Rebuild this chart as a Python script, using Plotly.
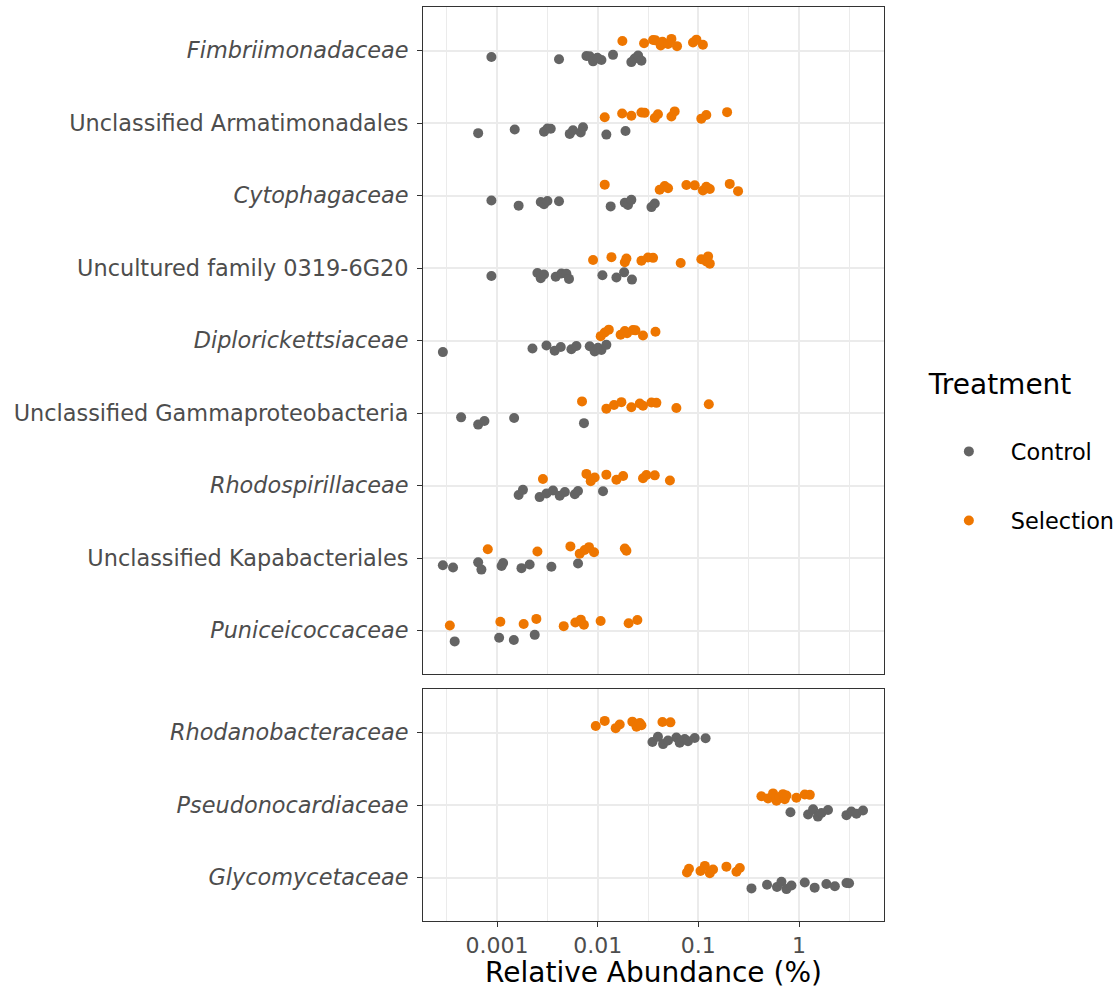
import plotly.graph_objects as go
from plotly.subplots import make_subplots

# ---------------- data ----------------
top_families = [
    "Puniceicoccaceae", "Unclassified Kapabacteriales", "Rhodospirillaceae",
    "Unclassified Gammaproteobacteria", "Diplorickettsiaceae",
    "Uncultured family 0319-6G20", "Cytophagaceae",
    "Unclassified Armatimonadales", "Fimbriimonadaceae",
]
bottom_families = ["Glycomycetaceae", "Pseudonocardiaceae", "Rhodanobacteraceae"]
italic_families = {
    "Fimbriimonadaceae", "Cytophagaceae", "Diplorickettsiaceae", "Rhodospirillaceae",
    "Puniceicoccaceae", "Rhodanobacteraceae", "Pseudonocardiaceae", "Glycomycetaceae",
}
treatments = ["Control", "Selection"]

fimbriimonadaceae_control = [0.00088, 0.00413, 0.00773, 0.00834, 0.0090, 0.00993, 0.0109, 0.0142, 0.0216, 0.0233, 0.0252, 0.0272]
fimbriimonadaceae_selection = [0.0176, 0.0289, 0.0355, 0.0375, 0.0423, 0.044, 0.050, 0.054, 0.0614, 0.0885, 0.0957, 0.111]
armatimonadales_control = [0.00065, 0.0015, 0.00293, 0.00317, 0.00342, 0.00528, 0.00569, 0.00679, 0.00715, 0.0122, 0.0189]
armatimonadales_selection = [0.01175, 0.0175, 0.0216, 0.0272, 0.0293, 0.0369, 0.0397, 0.054, 0.0582, 0.107, 0.120, 0.193]
cytophagaceae_control = [0.00088, 0.00164, 0.00272, 0.00293, 0.00317, 0.00413, 0.01346, 0.0186, 0.0200, 0.0216, 0.0342, 0.0369]
cytophagaceae_selection = [0.01175, 0.0413, 0.0463, 0.050, 0.0761, 0.092, 0.111, 0.120, 0.130, 0.205, 0.248]
family0319_control = [0.00088, 0.00252, 0.00272, 0.00293, 0.00383, 0.00436, 0.00489, 0.00519, 0.01115, 0.01535, 0.0183, 0.0219]
family0319_selection = [0.0090, 0.0137, 0.0186, 0.0193, 0.0272, 0.0316, 0.0355, 0.0668, 0.107, 0.120, 0.125, 0.130]
diplorickettsiaceae_control = [0.00029, 0.00225, 0.0031, 0.00374, 0.0043, 0.00548, 0.00615, 0.00834, 0.00934, 0.01007, 0.0109, 0.0122]
diplorickettsiaceae_selection = [0.01072, 0.01175, 0.0129, 0.0169, 0.0186, 0.0196, 0.0224, 0.0237, 0.0282, 0.0375]
gammaproteobacteria_control = [0.00044, 0.00065, 0.00075, 0.00148, 0.00731]
gammaproteobacteria_selection = [0.00699, 0.0122, 0.01453, 0.0172, 0.0216, 0.0262, 0.0282, 0.0342, 0.0383, 0.0605, 0.127]
rhodospirillaceae_control = [0.00164, 0.00181, 0.00265, 0.0031, 0.0036, 0.0042, 0.00472, 0.00593, 0.00638, 0.0113]
rhodospirillaceae_selection = [0.00286, 0.00773, 0.00853, 0.00934, 0.0122, 0.01535, 0.0179, 0.0282, 0.0305, 0.0369, 0.0522]
kapabacteriales_control = [0.00029, 0.000366, 0.00065, 0.0007, 0.00111, 0.00115, 0.00175, 0.00211, 0.00347, 0.00638]
kapabacteriales_selection = [0.00081, 0.00252, 0.00536, 0.00663, 0.00743, 0.0082, 0.0092, 0.0186, 0.0193]
puniceicoccaceae_control = [0.00038, 0.00105, 0.00147, 0.00237]
puniceicoccaceae_selection = [0.00034, 0.00108, 0.00184, 0.00246, 0.0046, 0.0060, 0.0068, 0.0073, 0.0107, 0.0203, 0.0248]
rhodanobacteraceae_control = [0.035, 0.0397, 0.0446, 0.050, 0.0605, 0.0653, 0.0732, 0.0789, 0.092, 0.118]
rhodanobacteraceae_selection = [0.00957, 0.01175, 0.0151, 0.01656, 0.0221, 0.0243, 0.0262, 0.0272, 0.044, 0.0528]
pseudonocardiaceae_control = [0.822, 1.23, 1.38, 1.54, 1.67, 1.94, 2.96, 3.31, 3.72, 4.32]
pseudonocardiaceae_selection = [0.423, 0.492, 0.552, 0.597, 0.643, 0.693, 0.721, 0.750, 0.942, 1.14, 1.28]
glycomycetaceae_control = [0.337, 0.481, 0.604, 0.669, 0.750, 0.841, 1.14, 1.43, 1.87, 2.27, 2.96, 3.14]
glycomycetaceae_selection = [0.0771, 0.0807, 0.105, 0.116, 0.130, 0.140, 0.190, 0.239, 0.258]

x_tick_values = [0.001, 0.01, 0.1, 1]
x_tick_labels = ["0.001", "0.01", "0.1", "1"]

family_values = {
    "Fimbriimonadaceae": (fimbriimonadaceae_control, fimbriimonadaceae_selection),
    "Unclassified Armatimonadales": (armatimonadales_control, armatimonadales_selection),
    "Cytophagaceae": (cytophagaceae_control, cytophagaceae_selection),
    "Uncultured family 0319-6G20": (family0319_control, family0319_selection),
    "Diplorickettsiaceae": (diplorickettsiaceae_control, diplorickettsiaceae_selection),
    "Unclassified Gammaproteobacteria": (gammaproteobacteria_control, gammaproteobacteria_selection),
    "Rhodospirillaceae": (rhodospirillaceae_control, rhodospirillaceae_selection),
    "Unclassified Kapabacteriales": (kapabacteriales_control, kapabacteriales_selection),
    "Puniceicoccaceae": (puniceicoccaceae_control, puniceicoccaceae_selection),
    "Rhodanobacteraceae": (rhodanobacteraceae_control, rhodanobacteraceae_selection),
    "Pseudonocardiaceae": (pseudonocardiaceae_control, pseudonocardiaceae_selection),
    "Glycomycetaceae": (glycomycetaceae_control, glycomycetaceae_selection),
}

# ---------------- style ----------------
colors = {"Control": "#646464", "Selection": "#EE7600"}
dodge = {"Control": -0.11, "Selection": 0.11}
jitter_pattern = [0.03, -0.04, 0.01, -0.02, 0.05, -0.05, 0.0, 0.04, -0.03, 0.02, -0.01, 0.035]

def label(name):
    return f"<i>{name}</i>" if name in italic_families else name

fig = make_subplots(rows=2, cols=1, shared_xaxes=True,
                    vertical_spacing=15 / 914, row_heights=[667, 232])

for row, fams in ((1, top_families), (2, bottom_families)):
    for ti, tr in enumerate(treatments):
        xs, ys = [], []
        for pos, fam in enumerate(fams, start=1):
            vals = family_values[fam][ti]
            for k, v in enumerate(vals):
                xs.append(v)
                ys.append(pos + dodge[tr] + jitter_pattern[(k + pos) % len(jitter_pattern)])
        fig.add_trace(go.Scatter(
            x=xs, y=ys, mode="markers", name=tr, legendgroup=tr,
            showlegend=(row == 1),
            marker=dict(color=colors[tr], size=10, line=dict(width=0)),
        ), row=row, col=1)

axis_common = dict(
    showline=True, linecolor="#333333", linewidth=1, mirror=True,
    showgrid=True, gridcolor="#EBEBEB", gridwidth=1.6, zeroline=False,
)
x_common = dict(
    type="log", range=[-3.735, 0.844],
    tickvals=x_tick_values, ticktext=x_tick_labels,
    minor=dict(tickvals=[10 ** -3.5, 10 ** -2.5, 10 ** -1.5, 10 ** -0.5, 10 ** 0.5],
               showgrid=True, gridcolor="#EBEBEB", gridwidth=0.8, ticks=""),
    **axis_common,
)
fig.update_xaxes(row=1, col=1, showticklabels=False, ticks="", **x_common)
fig.update_xaxes(row=2, col=1, ticks="outside", ticklen=5, tickwidth=1.2, tickcolor="#333333",
                 tickfont=dict(size=22, color="#4D4D4D"),
                 title=dict(text="Relative Abundance (%)", font=dict(size=28, color="#000000"), standoff=8),
                 **x_common)

fig.update_yaxes(row=1, col=1, range=[0.4, len(top_families) + 0.6],
                 tickvals=list(range(1, len(top_families) + 1)),
                 ticktext=[label(f) for f in top_families], **axis_common)
fig.update_yaxes(row=2, col=1, range=[0.4, len(bottom_families) + 0.6],
                 tickvals=list(range(1, len(bottom_families) + 1)),
                 ticktext=[label(f) for f in bottom_families], **axis_common)
fig.update_yaxes(ticks="outside", ticklen=5, tickwidth=1.2, tickcolor="#333333",
                 ticklabelstandoff=4,
                 tickfont=dict(size=22.4, color="#4D4D4D"))

fig.update_layout(
    width=1120, height=989,
    margin=dict(l=423, r=236, t=7, b=68, autoexpand=False),
    plot_bgcolor="white", paper_bgcolor="white",
    font=dict(family="DejaVu Sans", color="#000000"),
    legend=dict(
        title=dict(text="Treatment<br> ", font=dict(size=28)),
        font=dict(size=22.4), x=1.093, xanchor="left", y=0.6165, yanchor="top",
        tracegroupgap=37, itemwidth=74, bgcolor="rgba(0,0,0,0)",
    ),
)

fig.write_html("out.html")
